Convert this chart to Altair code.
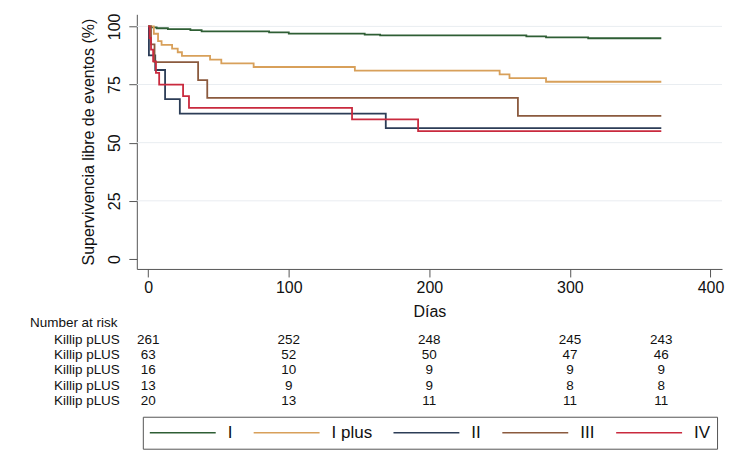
import altair as alt
import pandas as pd

# ---------------- data ----------------
groups = ["I", "I plus", "II", "III", "IV"]
colors = ["#2e5e34", "#d8a05a", "#2c3d57", "#8b5a3e", "#c92a3e"]

days_I = [0, 2, 6, 14, 30, 38, 86, 100, 154, 165, 269, 283, 313, 365]
surv_I = [100, 99.6, 99.2, 98.8, 98.4, 97.9, 97.4, 96.9, 96.5, 96.1, 95.7, 95.3, 94.9, 94.9]

days_Iplus = [0, 4, 7, 9.5, 17, 21, 24, 44, 52, 75, 147, 250, 257, 283, 365]
surv_Iplus = [100, 96.83, 93.65, 92.06, 90.48, 88.89, 87.30, 85.71, 84.13, 82.54,
              80.95, 79.37, 77.78, 76.19, 76.19]

days_II = [0, 0.5, 5, 12, 22.5, 169, 365]
surv_II = [100, 87.5, 81.25, 68.75, 62.5, 56.25, 56.25]

days_III = [0, 2, 4.5, 35.5, 42, 263, 365]
surv_III = [100, 92.31, 84.62, 76.92, 69.23, 61.54, 61.54]

days_IV = [0, 1, 2, 3.5, 5.5, 7.8, 24.8, 29, 145, 192, 365]
surv_IV = [100, 95, 90, 85, 80, 75, 70, 65, 60, 55, 55]

risk_days = [0, 100, 200, 300, 365]
risk_I = [261, 252, 248, 245, 243]
risk_Iplus = [63, 52, 50, 47, 46]
risk_II = [16, 10, 9, 9, 9]
risk_III = [13, 9, 9, 8, 8]
risk_IV = [20, 13, 11, 11, 11]
row_label = "Killip pLUS"
risk_title = "Number at risk"

x_ticks = [0, 100, 200, 300, 400]
y_ticks = [0, 25, 50, 75, 100]
grid_vals = [25, 50, 75, 100]

# ---------------- tables ----------------
series = [(days_I, surv_I), (days_Iplus, surv_Iplus), (days_II, surv_II),
          (days_III, surv_III), (days_IV, surv_IV)]
rows = []
for g, (d, s) in zip(groups, series):
    for di, si in zip(d, s):
        rows.append({"group": g, "day": di, "surv": si})
df_curves = pd.DataFrame(rows)

risk_all = [risk_I, risk_Iplus, risk_II, risk_III, risk_IV]
rrows = []
for r, vals in enumerate(risk_all):
    for d, n in zip(risk_days, vals):
        rrows.append({"row": r, "day": d, "n": n})
df_risk = pd.DataFrame(rrows)
df_labels = pd.DataFrame({"row": list(range(5)), "label": [row_label] * 5})

FONT = "Liberation Sans"
xscale = alt.Scale(domain=[-8.1, 408.2], nice=False, zero=False)
yscale = alt.Scale(domain=[-4.3, 105.2], nice=False, zero=False)
rowscale = alt.Scale(domain=[0, 4], range=[326, 387], nice=False, zero=False)

x_axis = alt.Axis(values=x_ticks, title="Días", titleFontSize=16, titleFontWeight="normal",
                  labelFontSize=16, tickSize=8, labelPadding=3, titlePadding=8,
                  domainColor="#555", tickColor="#555", labelColor="#111",
                  titleColor="#111", grid=False, labelFlush=False)
y_axis = alt.Axis(values=y_ticks, title="Supervivencia libre de eventos (%)",
                  titleFontSize=16, titleFontWeight="normal", labelFontSize=16,
                  labelAngle=270, labelAlign="center", labelBaseline="middle",
                  labelPadding=14, titlePadding=10, tickSize=8, grid=False,
                  domainColor="#555", tickColor="#555", labelColor="#111",
                  titleColor="#111", labelFlush=False)

grid = alt.Chart(pd.DataFrame({"g": grid_vals})).mark_rule(
    color="#e9edf1", strokeWidth=1
).encode(y=alt.Y("g:Q", scale=yscale, axis=None))

lines = alt.Chart(df_curves).mark_line(interpolate="step-after", strokeWidth=1.8).encode(
    x=alt.X("day:Q", scale=xscale, axis=x_axis),
    y=alt.Y("surv:Q", scale=yscale, axis=y_axis),
    color=alt.Color("group:N", scale=alt.Scale(domain=groups, range=colors),
                    legend=alt.Legend(orient="none", legendX=6, legendY=403,
                                      direction="horizontal", title=None,
                                      symbolType="stroke", symbolSize=4356,
                                      symbolStrokeWidth=1.5, clipHeight=20,
                                      labelFontSize=17, labelFont=FONT,
                                      labelColor="#111", labelOffset=11,
                                      columnPadding=20, padding=6,
                                      strokeColor="#555", fillColor="white")),
)

table = alt.Chart(df_risk).mark_text(fontSize=13.5, baseline="middle", align="center",
                                     color="#111").encode(
    x=alt.X("day:Q", scale=xscale, axis=x_axis),
    y=alt.Y("row:Q", scale=rowscale, axis=None),
    text="n:Q",
)

labels = alt.Chart(df_labels).mark_text(fontSize=13.5, baseline="middle", align="right",
                                        color="#111").encode(
    x=alt.value(-17),
    y=alt.Y("row:Q", scale=rowscale, axis=None),
    text="label:N",
)

header = alt.Chart(pd.DataFrame({"t": [risk_title]})).mark_text(
    fontSize=13.5, baseline="middle", align="left", color="#111"
).encode(x=alt.value(-107), y=alt.value(308.7), text="t:N")

chart = alt.layer(grid, lines, table, labels, header).resolve_scale(
    y="independent"
).properties(
    width=586, height=255,
    padding={"left": 129, "top": 6, "right": 20, "bottom": 190},
    autosize=alt.AutoSizeParams(type="none"),
).configure(font=FONT).configure_view(stroke=None).configure_legend(strokeWidth=1)

chart.save("out.html", embed_options={"renderer": "svg", "actions": False})
